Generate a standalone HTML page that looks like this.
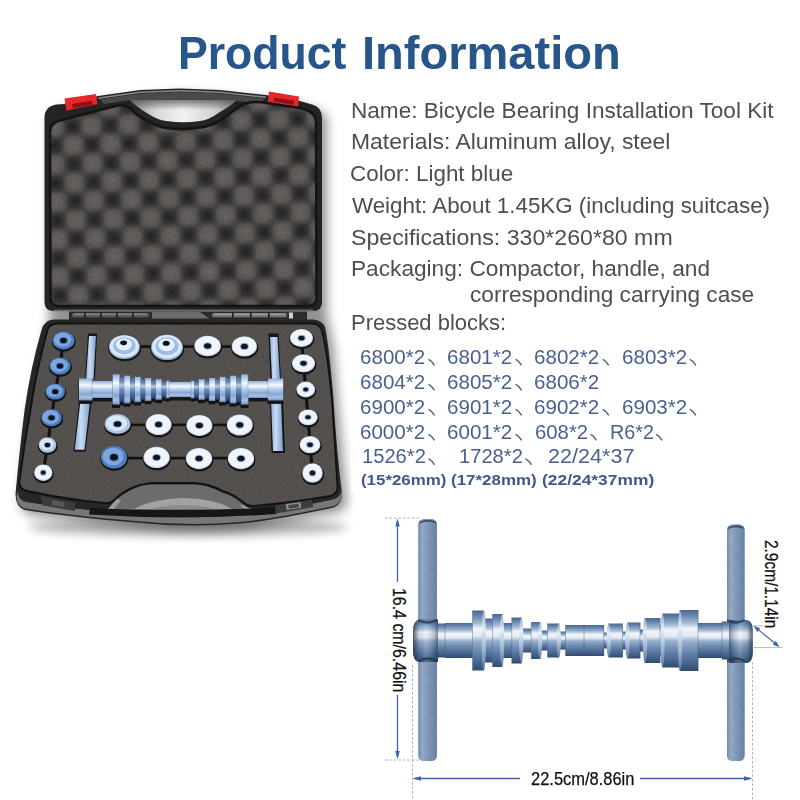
<!DOCTYPE html>
<html><head><meta charset="utf-8"><title>Product Information</title>
<style>
html,body{margin:0;padding:0;background:#fff;}
body{width:800px;height:800px;position:relative;overflow:hidden;font-family:"Liberation Sans",sans-serif;}
.t{position:absolute;white-space:nowrap;transform-origin:0 0;line-height:1;}
.ti{font-weight:bold;color:#27568a;}
.g{color:#4e4e4e;}
.b{color:#4a6090;}
.bb{color:#42578a;font-weight:bold;}
.k{color:#111;-webkit-text-stroke:0.25px #111;}
svg{position:absolute;left:0;top:0;}
</style></head><body>
<svg id="art" width="800" height="800" viewBox="0 0 800 800">

<defs>
<radialGradient id="bl" cx="50%" cy="50%" r="50%"><stop offset="0" stop-color="#6d6967" stop-opacity="1"/><stop offset="0.5" stop-color="#6d6967" stop-opacity="0.75"/><stop offset="1" stop-color="#6d6967" stop-opacity="0"/></radialGradient>
<radialGradient id="bd" cx="50%" cy="50%" r="50%"><stop offset="0" stop-color="#222020" stop-opacity="0.9"/><stop offset="1" stop-color="#222020" stop-opacity="0"/></radialGradient>
<pattern id="foam" width="37.5" height="37.5" patternUnits="userSpaceOnUse" patternTransform="translate(130 162) rotate(-2)">
<rect width="37.5" height="37.5" fill="#474544"/>
<circle cx="0" cy="0" r="14" fill="url(#bl)"/><circle cx="37.5" cy="0" r="14" fill="url(#bl)"/><circle cx="0" cy="37.5" r="14" fill="url(#bl)"/><circle cx="37.5" cy="37.5" r="14" fill="url(#bl)"/><circle cx="18.75" cy="18.75" r="14" fill="url(#bl)"/>
<circle cx="18.75" cy="0" r="11" fill="url(#bd)"/><circle cx="18.75" cy="37.5" r="11" fill="url(#bd)"/><circle cx="0" cy="18.75" r="11" fill="url(#bd)"/><circle cx="37.5" cy="18.75" r="11" fill="url(#bd)"/>
</pattern>
<linearGradient id="metal" x1="0" y1="0" x2="0" y2="1">
<stop offset="0" stop-color="#6d86a8"/><stop offset="0.12" stop-color="#9db3cf"/><stop offset="0.3" stop-color="#e4ecf5"/><stop offset="0.42" stop-color="#b9cadf"/><stop offset="0.6" stop-color="#7f98b9"/><stop offset="0.8" stop-color="#5d779c"/><stop offset="0.92" stop-color="#89a0bf"/><stop offset="1" stop-color="#566f93"/>
</linearGradient>
<linearGradient id="metalD" x1="0" y1="0" x2="0" y2="1">
<stop offset="0" stop-color="#4a668e"/><stop offset="0.1" stop-color="#6a8ab3"/><stop offset="0.22" stop-color="#a9bed8"/><stop offset="0.3" stop-color="#f0f5fa"/><stop offset="0.42" stop-color="#e2eaf4"/><stop offset="0.52" stop-color="#93accb"/><stop offset="0.72" stop-color="#6080a8"/><stop offset="0.9" stop-color="#425f87"/><stop offset="1" stop-color="#2f4a70"/>
</linearGradient>
<linearGradient id="metalS" x1="0" y1="0" x2="0" y2="1">
<stop offset="0" stop-color="#8fadd6"/><stop offset="0.14" stop-color="#c2d6ef"/><stop offset="0.3" stop-color="#f6f9fd"/><stop offset="0.45" stop-color="#c3d6ee"/><stop offset="0.7" stop-color="#86a6d2"/><stop offset="0.88" stop-color="#a9c2e4"/><stop offset="1" stop-color="#6d8dbc"/>
</linearGradient>
<linearGradient id="metalSd" x1="0" y1="0" x2="0" y2="1">
<stop offset="0" stop-color="#4c6a98"/><stop offset="0.2" stop-color="#6f90c0"/><stop offset="0.33" stop-color="#b9cfec"/><stop offset="0.5" stop-color="#6b8cbd"/><stop offset="0.8" stop-color="#3f5c8a"/><stop offset="1" stop-color="#2c456e"/>
</linearGradient>
<linearGradient id="face" x1="0" y1="0" x2="0" y2="1"><stop offset="0" stop-color="#8ea7c6"/><stop offset="0.3" stop-color="#e9eff6"/><stop offset="0.55" stop-color="#b4c6dc"/><stop offset="1" stop-color="#5c7aa2"/></linearGradient>
<linearGradient id="hubL" x1="0" y1="0" x2="1" y2="0"><stop offset="0" stop-color="#1d2c44" stop-opacity="0.75"/><stop offset="0.25" stop-color="#1d2c44" stop-opacity="0.1"/><stop offset="0.5" stop-color="#fff" stop-opacity="0.15"/><stop offset="0.85" stop-color="#1d2c44" stop-opacity="0.25"/><stop offset="1" stop-color="#1d2c44" stop-opacity="0.55"/></linearGradient>
<linearGradient id="hubR" x1="1" y1="0" x2="0" y2="0"><stop offset="0" stop-color="#1d2c44" stop-opacity="0.75"/><stop offset="0.25" stop-color="#1d2c44" stop-opacity="0.1"/><stop offset="0.5" stop-color="#fff" stop-opacity="0.15"/><stop offset="0.85" stop-color="#1d2c44" stop-opacity="0.25"/><stop offset="1" stop-color="#1d2c44" stop-opacity="0.55"/></linearGradient>
<pattern id="knurl" width="2.4" height="2.4" patternUnits="userSpaceOnUse" patternTransform="rotate(30)"><rect width="2.4" height="2.4" fill="#9fb5d0"/><rect width="1.2" height="1.2" fill="#5d7799"/><rect x="1.2" y="1.2" width="1.2" height="1.2" fill="#5d7799"/></pattern>
<linearGradient id="hand" x1="0" y1="0" x2="1" y2="0">
<stop offset="0" stop-color="#68829f"/><stop offset="0.22" stop-color="#a6bad3"/><stop offset="0.5" stop-color="#839cbd"/><stop offset="0.85" stop-color="#627da1"/><stop offset="1" stop-color="#4f698d"/>
</linearGradient>
<linearGradient id="bar" x1="0" y1="0" x2="1" y2="0">
<stop offset="0" stop-color="#8fb0dc"/><stop offset="0.4" stop-color="#c9dcf3"/><stop offset="1" stop-color="#7c9ccb"/>
</linearGradient>
<radialGradient id="shadow" cx="50%" cy="50%" r="50%"><stop offset="0" stop-color="#000" stop-opacity="0.35"/><stop offset="0.6" stop-color="#000" stop-opacity="0.15"/><stop offset="1" stop-color="#000" stop-opacity="0"/></radialGradient>
<linearGradient id="hole" x1="0" y1="0" x2="1" y2="0"><stop offset="0" stop-color="#8d8d8d"/><stop offset="0.25" stop-color="#d8d8d8"/><stop offset="0.5" stop-color="#f2f2f2"/><stop offset="0.8" stop-color="#cfcfcf"/><stop offset="1" stop-color="#8d8d8d"/></linearGradient>
<linearGradient id="holeV" x1="0" y1="0" x2="0" y2="1"><stop offset="0" stop-color="#4a4a4a" stop-opacity="0.7"/><stop offset="0.45" stop-color="#4a4a4a" stop-opacity="0"/></linearGradient>
<filter id="noise" x="0" y="0" width="100%" height="100%"><feTurbulence type="fractalNoise" baseFrequency="0.9" numOctaves="2" seed="3" result="n"/><feColorMatrix type="matrix" values="0 0 0 0 0  0 0 0 0 0  0 0 0 0 0  1.4 0 0 0 -0.45"/><feComposite in2="SourceGraphic" operator="in"/></filter>
<filter id="blur6" x="-20%" y="-20%" width="140%" height="140%"><feGaussianBlur stdDeviation="5.5"/></filter>
<filter id="blur4" x="-20%" y="-50%" width="140%" height="200%"><feGaussianBlur stdDeviation="5"/></filter>
<filter id="blur2"><feGaussianBlur stdDeviation="2"/></filter>
<filter id="blur1"><feGaussianBlur stdDeviation="0.6"/></filter>
</defs>

<path d="M44.5,118 Q44.5,106 57,104.5 L98,96 L180,88.4 L266,95 L312,104.5 Q322,107 322,118 L322,311 Q325,322 329,345 L333.5,400 L342,494 Q342.5,503 334,507.5 L240,523.5 Q185,528 130,522 L25,510 Q15.5,507 15.5,494 L24.6,410 L41.5,330 L44.5,311 Z" fill="#000" opacity="0.42" filter="url(#blur6)" transform="translate(5 5)"/>
<ellipse cx="188" cy="527" rx="160" ry="9" fill="#000" opacity="0.3" filter="url(#blur4)"/>
<rect x="351" y="84" width="449" height="409" fill="#fff"/>
<path d="M44.5,118 Q44.5,106 57,104.5 L64,104 L98,96 L140,90 L180,88.4 L220,90 L266,95 L300,101 L312,104.5 Q322,107 322,118 L322,302 Q322,311 313,311 L54,311 Q44.5,311 44.5,302 Z" fill="#242424"/>
<path d="M98,97.5 L140,91.5 L180,90 L220,91.5 L266,96.5 L266,98 L220,93 L180,91.5 L140,93 L98,99 Z" fill="#8a8a8a"/>
<path d="M100,99.5 L140,93.5 L180,92 L220,93.5 L264,98.5 L262,103 L236,101 L130,100 L104,104 Z" fill="#4a4a4a"/>
<path d="M130,100 L236,100.5 Q232,105 220,112 Q208,120.5 200,121 Q184,123.5 166,121 Q158,120 150,115 Q138,108 130,100 Z" fill="url(#hole)"/>
<path d="M130,100 L236,100.5 Q232,105 220,112 Q208,120.5 200,121 Q184,123.5 166,121 Q158,120 150,115 Q138,108 130,100 Z" fill="url(#holeV)"/>
<path d="M64.5,98.5 L96,94 L97.5,104 L66.5,110.5 Z" fill="#e8272c"/>
<path d="M72,104 L92,100.5 L92.5,104.5 L73,108.5 Z" fill="#8f1216"/>
<path d="M269,91.5 L299,96.5 L298,107 L268,102 Z" fill="#e8272c"/>
<path d="M274,97.5 L294,100.8 L293.6,105 L273.6,101.5 Z" fill="#8f1216"/>
<path id="lidfoam" d="M50,132 Q50,123 60,120.5 L100,110 L118,105.5 Q127,104.5 132,110 Q140,118 150,122 Q158,127 166,128 Q184,130.5 204,127 Q214,125 224,118 Q232,112 240,106 Q248,101.5 260,102 L300,108 Q315,110.5 316,122 L316.5,298 Q316.5,306 308,306 L59,306 Q50.5,306 50.5,298 Z" fill="url(#foam)"/>
<path d="M50,132 Q50,123 60,120.5 L100,110 L118,105.5 Q127,104.5 132,110 Q140,118 150,122 Q158,127 166,128 Q184,130.5 204,127 Q214,125 224,118 Q232,112 240,106 Q248,101.5 260,102 L300,108 Q315,110.5 316,122 L316.5,298 Q316.5,306 308,306 L59,306 Q50.5,306 50.5,298 Z" fill="#000" filter="url(#noise)" opacity="0.28"/>
<path d="M50,132 Q50,123 60,120.5 L100,110 L118,105.5 Q127,104.5 132,110 Q140,118 150,122 Q158,127 166,128 Q184,130.5 204,127 Q214,125 224,118 Q232,112 240,106 Q248,101.5 260,102 L300,108 Q315,110.5 316,122 L316.5,298 Q316.5,306 308,306 L59,306 Q50.5,306 50.5,298 Z" fill="none" stroke="#141414" stroke-width="2.5"/>
<rect x="54" y="309.6" width="259" height="1.6" fill="#6a6a6a"/>
<rect x="69" y="311.5" width="238" height="8.5" fill="#2c2c2c"/>
<rect x="72" y="313" width="77" height="4.2" rx="2" fill="#5c5c5c"/>
<rect x="74" y="313.6" width="73" height="1.2" fill="#8a8a8a"/>
<path d="M152,312 L200,312 L209,318.5 L152,318.5 Z" fill="#6e6e6e"/>
<rect x="212" y="313" width="75" height="4.2" rx="2" fill="#767676"/>
<rect x="214" y="313.6" width="71" height="1.2" fill="#a5a5a5"/>
<rect x="289" y="312.5" width="4" height="6" fill="#cfcfcf"/>
<rect x="84" y="312.3" width="1.6" height="5.8" fill="#1e1e1e"/>
<rect x="100" y="312.3" width="1.6" height="5.8" fill="#1e1e1e"/>
<rect x="116" y="312.3" width="1.6" height="5.8" fill="#1e1e1e"/>
<rect x="132" y="312.3" width="1.6" height="5.8" fill="#1e1e1e"/>
<rect x="232" y="312.3" width="1.6" height="5.8" fill="#1e1e1e"/>
<rect x="250" y="312.3" width="1.6" height="5.8" fill="#1e1e1e"/>
<rect x="268" y="312.3" width="1.6" height="5.8" fill="#1e1e1e"/>
<path d="M41.5,330 Q44,320 54,319.5 L313,319.5 Q322,320 325,327 Q329,345 333.5,400 Q336.5,450 342,494 Q342.5,503 334,507.5 Q270,521 240,523.5 Q185,528 130,522 Q70,517 25,510 Q15.5,507 15.5,494 Q19.5,450 24.6,410 Q30.5,368 41.5,330 Z" fill="#262626"/>
<path d="M16.5,497 Q17,506 25,508.5 Q70,515.5 130,520.5 Q185,526.5 240,522 Q270,519.5 334,506 Q341,503 342,496 L341.5,490 Q341,497 333,499.5 Q270,513 240,515.5 Q185,519.5 130,514 Q70,509 26,502 Q18,500 17.5,491 Z" fill="#777"/>
<path id="trayfoam" d="M47,332 Q48,324 57,323.5 L312,323.5 Q320,324 322,331 Q327,350 332,400 Q335,450 337.5,487 Q337.5,494 330,496 Q290,503 252,506 Q247,506 244,503 Q234,494 223,491 Q208,483.5 194.5,483 L152,483 Q138,484 125.6,491 Q117,497 113,501 Q110,503.5 104,503 Q70,500 27,491 Q18.5,489 19.5,481 Q24,445 30.5,410 Q36,372 47,332 Z" fill="#585451"/>
<path d="M47,332 Q48,324 57,323.5 L312,323.5 Q320,324 322,331 Q327,350 332,400 Q335,450 337.5,487 Q337.5,494 330,496 Q290,503 252,506 Q247,506 244,503 Q234,494 223,491 Q208,483.5 194.5,483 L152,483 Q138,484 125.6,491 Q117,497 113,501 Q110,503.5 104,503 Q70,500 27,491 Q18.5,489 19.5,481 Q24,445 30.5,410 Q36,372 47,332 Z" fill="#000" filter="url(#noise)" opacity="0.2"/>
<path d="M47,332 Q48,324 57,323.5 L312,323.5 Q320,324 322,331 Q327,350 332,400 Q335,450 337.5,487 Q337.5,494 330,496 Q290,503 252,506 Q247,506 244,503 Q234,494 223,491 Q208,483.5 194.5,483 L152,483 Q138,484 125.6,491 Q117,497 113,501 Q110,503.5 104,503 Q70,500 27,491 Q18.5,489 19.5,481 Q24,445 30.5,410 Q36,372 47,332 Z" fill="none" stroke="#121212" stroke-width="1.8"/>
<path d="M108,509 Q112,504 117,499 Q126,491.5 139,486.5 Q146,484.5 152,484.5 L194.5,484.5 Q208,485 222,492.5 Q234,496 243,504.5 Q247,508 252,509 L250,510 L110,510 Z" fill="#6c6c6c"/>
<path d="M134,509 Q150,499.5 183,498 Q216,499 232,509 Z" fill="#a2a2a2"/>
<path d="M150,509 Q183,501 216,509 Z" fill="#8c8c8c"/>
<path d="M108,509 Q112,504 117,499 L121,500.5 Q117,505 114,509 Z" fill="#9a9a9a"/>
<path d="M252,509 Q247,508 243,504.5 L240,506 Q243,508 246,509.5 Z" fill="#9a9a9a"/>
<path d="M90,508 Q185,513 275,507 L276,514 Q185,520.5 89,514.5 Z" fill="#161616"/>
<path d="M41,496 L75,502.5 L75,511 L43,505.5 Z" fill="#3c3c3c"/>
<path d="M52,500 L64,502.3 L64,507 L52,505 Z" fill="#5a5a5a"/>
<path d="M275,505.5 L312,499.5 L313,507 L276,513.5 Z" fill="#3c3c3c"/>
<rect x="286" y="503" width="15" height="6" fill="#8a8a8a" transform="rotate(-8 293 506)"/>
<rect x="288.5" y="504.5" width="10" height="3.5" fill="#444" transform="rotate(-8 293 506)"/>
<rect x="124" y="345.3" width="121" height="2.6" fill="#111"/>
<rect x="117" y="423.6" width="123" height="2.6" fill="#111"/>
<rect x="114" y="456.8" width="127" height="2.6" fill="#111"/>
<path d="M63.5,340.5 L60,366 L55.25,391.7 L51.5,417.8 L47.5,445 L43.25,472.7" stroke="#111" stroke-width="3" fill="none"/>
<path d="M301.5,338 L303.5,363.3 L305.75,389.5 L308,417.3 L310,444.7 L312.5,473" stroke="#111" stroke-width="3" fill="none"/>
<ellipse cx="63.8" cy="341.8" rx="12" ry="10" fill="#161616"/>
<ellipse cx="63.5" cy="340.5" rx="11" ry="9" fill="#4f7fc4"/>
<ellipse cx="62.7" cy="339.7" rx="8.8" ry="7.0200000000000005" fill="#7fa6dc"/>
<ellipse cx="63.5" cy="340.5" rx="4.37" ry="3.54" fill="#4f7fc4"/>
<ellipse cx="63.5" cy="340.5" rx="3.37" ry="2.6399999999999997" fill="#0c1220"/>
<ellipse cx="60.3" cy="367.3" rx="11.5" ry="9.6" fill="#161616"/>
<ellipse cx="60" cy="366" rx="10.5" ry="8.6" fill="#4f7fc4"/>
<ellipse cx="59.2" cy="365.2" rx="8.4" ry="6.708" fill="#7fa6dc"/>
<ellipse cx="60" cy="366" rx="4.234999999999999" ry="3.436" fill="#4f7fc4"/>
<ellipse cx="60" cy="366" rx="3.235" ry="2.5359999999999996" fill="#0c1220"/>
<ellipse cx="55.55" cy="393.0" rx="10.75" ry="8.9" fill="#161616"/>
<ellipse cx="55.25" cy="391.7" rx="9.75" ry="7.9" fill="#4f7fc4"/>
<ellipse cx="54.45" cy="390.9" rx="7.800000000000001" ry="6.162000000000001" fill="#7fa6dc"/>
<ellipse cx="55.25" cy="391.7" rx="4.032500000000001" ry="3.2540000000000004" fill="#4f7fc4"/>
<ellipse cx="55.25" cy="391.7" rx="3.0325" ry="2.354" fill="#0c1220"/>
<ellipse cx="51.8" cy="419.1" rx="11.3" ry="9.5" fill="#161616"/>
<ellipse cx="51.5" cy="417.8" rx="10.3" ry="8.5" fill="#4f7fc4"/>
<ellipse cx="50.7" cy="417.0" rx="8.24" ry="6.63" fill="#7fa6dc"/>
<ellipse cx="51.5" cy="417.8" rx="4.181000000000001" ry="3.41" fill="#4f7fc4"/>
<ellipse cx="51.5" cy="417.8" rx="3.1810000000000005" ry="2.51" fill="#0c1220"/>
<ellipse cx="47.8" cy="446.3" rx="9.85" ry="8.65" fill="#161616"/>
<ellipse cx="47.5" cy="445" rx="8.85" ry="7.65" fill="#a9c3e6"/>
<ellipse cx="46.7" cy="444.2" rx="7.08" ry="5.9670000000000005" fill="#dbe7f6"/>
<ellipse cx="47.5" cy="445" rx="3.7895" ry="3.189" fill="#a9c3e6"/>
<ellipse cx="47.5" cy="445" rx="2.7895" ry="2.289" fill="#0c1220"/>
<ellipse cx="43.55" cy="474.0" rx="10.2" ry="9.25" fill="#161616"/>
<ellipse cx="43.25" cy="472.7" rx="9.2" ry="8.25" fill="#c9d8ec"/>
<ellipse cx="43.25" cy="472.4" rx="8.299999999999999" ry="7.35" fill="#f1f5fb"/>
<ellipse cx="43.25" cy="472.7" rx="3.484" ry="3.145" fill="#9fb6d6"/>
<ellipse cx="43.25" cy="472.7" rx="2.484" ry="2.145" fill="#0f1626"/>
<ellipse cx="301.8" cy="339.3" rx="12.5" ry="10" fill="#161616"/>
<ellipse cx="301.5" cy="338" rx="11.5" ry="9" fill="#c9d8ec"/>
<ellipse cx="301.5" cy="337.7" rx="10.6" ry="8.1" fill="#f1f5fb"/>
<ellipse cx="301.5" cy="338" rx="4.105" ry="3.34" fill="#9fb6d6"/>
<ellipse cx="301.5" cy="338" rx="3.1050000000000004" ry="2.34" fill="#0f1626"/>
<ellipse cx="303.8" cy="364.6" rx="12.6" ry="10" fill="#161616"/>
<ellipse cx="303.5" cy="363.3" rx="11.6" ry="9" fill="#c9d8ec"/>
<ellipse cx="303.5" cy="363.0" rx="10.7" ry="8.1" fill="#f1f5fb"/>
<ellipse cx="303.5" cy="363.3" rx="4.132" ry="3.34" fill="#9fb6d6"/>
<ellipse cx="303.5" cy="363.3" rx="3.132" ry="2.34" fill="#0f1626"/>
<ellipse cx="306.05" cy="390.8" rx="10.4" ry="8.9" fill="#161616"/>
<ellipse cx="305.75" cy="389.5" rx="9.4" ry="7.9" fill="#c9d8ec"/>
<ellipse cx="305.75" cy="389.2" rx="8.5" ry="7.0" fill="#f1f5fb"/>
<ellipse cx="305.75" cy="389.5" rx="3.5380000000000003" ry="3.0540000000000003" fill="#9fb6d6"/>
<ellipse cx="305.75" cy="389.5" rx="2.5380000000000003" ry="2.0540000000000003" fill="#0f1626"/>
<ellipse cx="308.3" cy="418.6" rx="10.75" ry="8.9" fill="#161616"/>
<ellipse cx="308" cy="417.3" rx="9.75" ry="7.9" fill="#c9d8ec"/>
<ellipse cx="308" cy="417.0" rx="8.85" ry="7.0" fill="#f1f5fb"/>
<ellipse cx="308" cy="417.3" rx="3.6325000000000003" ry="3.0540000000000003" fill="#9fb6d6"/>
<ellipse cx="308" cy="417.3" rx="2.6325000000000003" ry="2.0540000000000003" fill="#0f1626"/>
<ellipse cx="310.3" cy="446.0" rx="11.5" ry="9.6" fill="#161616"/>
<ellipse cx="310" cy="444.7" rx="10.5" ry="8.6" fill="#c9d8ec"/>
<ellipse cx="310" cy="444.4" rx="9.6" ry="7.699999999999999" fill="#f1f5fb"/>
<ellipse cx="310" cy="444.7" rx="3.835" ry="3.2359999999999998" fill="#9fb6d6"/>
<ellipse cx="310" cy="444.7" rx="2.835" ry="2.2359999999999998" fill="#0f1626"/>
<ellipse cx="312.8" cy="474.3" rx="11.3" ry="10.75" fill="#161616"/>
<ellipse cx="312.5" cy="473" rx="10.3" ry="9.75" fill="#c9d8ec"/>
<ellipse cx="312.5" cy="472.7" rx="9.4" ry="8.85" fill="#f1f5fb"/>
<ellipse cx="312.5" cy="473" rx="3.7810000000000006" ry="3.535" fill="#9fb6d6"/>
<ellipse cx="312.5" cy="473" rx="2.7810000000000006" ry="2.535" fill="#0f1626"/>
<ellipse cx="124.7" cy="348.3" rx="16.5" ry="13" fill="#161616"/>
<ellipse cx="124.4" cy="347" rx="15.5" ry="12" fill="#8fb0dd"/>
<ellipse cx="124.4" cy="346.4" rx="14.5" ry="11" fill="#dbe7f7"/>
<ellipse cx="124.4" cy="345.8" rx="11.16" ry="8.399999999999999" fill="#9dbce6"/>
<ellipse cx="123.9" cy="344.4" rx="8.06" ry="6.0" fill="#e6effa"/>
<ellipse cx="123.60000000000001" cy="342.8" rx="3.41" ry="2.4000000000000004" fill="#0c1220"/>
<ellipse cx="167.3" cy="348.7" rx="17" ry="13.7" fill="#161616"/>
<ellipse cx="167" cy="347.4" rx="16" ry="12.7" fill="#8fb0dd"/>
<ellipse cx="167" cy="346.79999999999995" rx="15" ry="11.7" fill="#dbe7f7"/>
<ellipse cx="167" cy="346.2" rx="11.52" ry="8.889999999999999" fill="#9dbce6"/>
<ellipse cx="166.5" cy="344.79999999999995" rx="8.32" ry="6.35" fill="#e6effa"/>
<ellipse cx="166.2" cy="343.2" rx="3.52" ry="2.54" fill="#0c1220"/>
<ellipse cx="207.9" cy="347.3" rx="14.3" ry="11.3" fill="#161616"/>
<ellipse cx="207.6" cy="346" rx="13.3" ry="10.3" fill="#c9d8ec"/>
<ellipse cx="207.6" cy="345.7" rx="12.4" ry="9.4" fill="#f1f5fb"/>
<ellipse cx="207.6" cy="346" rx="4.591000000000001" ry="3.6780000000000004" fill="#9fb6d6"/>
<ellipse cx="207.6" cy="346" rx="3.5910000000000006" ry="2.6780000000000004" fill="#0f1626"/>
<ellipse cx="244.70000000000002" cy="347.7" rx="13.7" ry="11.1" fill="#161616"/>
<ellipse cx="244.4" cy="346.4" rx="12.7" ry="10.1" fill="#c9d8ec"/>
<ellipse cx="244.4" cy="346.09999999999997" rx="11.799999999999999" ry="9.2" fill="#f1f5fb"/>
<ellipse cx="244.4" cy="346.4" rx="4.429" ry="3.626" fill="#9fb6d6"/>
<ellipse cx="244.4" cy="346.4" rx="3.429" ry="2.626" fill="#0f1626"/>
<ellipse cx="117.8" cy="425.3" rx="14" ry="10.9" fill="#161616"/>
<ellipse cx="117.5" cy="424" rx="13" ry="9.9" fill="#a9c3e6"/>
<ellipse cx="116.7" cy="423.2" rx="10.4" ry="7.722" fill="#dbe7f6"/>
<ellipse cx="117.5" cy="424" rx="4.91" ry="3.774" fill="#a9c3e6"/>
<ellipse cx="117.5" cy="424" rx="3.91" ry="2.874" fill="#0c1220"/>
<ellipse cx="158.9" cy="425.90000000000003" rx="14" ry="11.5" fill="#161616"/>
<ellipse cx="158.6" cy="424.6" rx="13" ry="10.5" fill="#c9d8ec"/>
<ellipse cx="158.6" cy="424.3" rx="12.1" ry="9.6" fill="#f1f5fb"/>
<ellipse cx="158.6" cy="424.6" rx="4.51" ry="3.73" fill="#9fb6d6"/>
<ellipse cx="158.6" cy="424.6" rx="3.5100000000000002" ry="2.73" fill="#0f1626"/>
<ellipse cx="199.70000000000002" cy="426.7" rx="14" ry="11.5" fill="#161616"/>
<ellipse cx="199.4" cy="425.4" rx="13" ry="10.5" fill="#c9d8ec"/>
<ellipse cx="199.4" cy="425.09999999999997" rx="12.1" ry="9.6" fill="#f1f5fb"/>
<ellipse cx="199.4" cy="425.4" rx="4.51" ry="3.73" fill="#9fb6d6"/>
<ellipse cx="199.4" cy="425.4" rx="3.5100000000000002" ry="2.73" fill="#0f1626"/>
<ellipse cx="240.10000000000002" cy="426.3" rx="14" ry="11.5" fill="#161616"/>
<ellipse cx="239.8" cy="425" rx="13" ry="10.5" fill="#c9d8ec"/>
<ellipse cx="239.8" cy="424.7" rx="12.1" ry="9.6" fill="#f1f5fb"/>
<ellipse cx="239.8" cy="425" rx="4.51" ry="3.73" fill="#9fb6d6"/>
<ellipse cx="239.8" cy="425" rx="3.5100000000000002" ry="2.73" fill="#0f1626"/>
<ellipse cx="114.3" cy="458.55" rx="14.1" ry="12.25" fill="#161616"/>
<ellipse cx="114" cy="457.25" rx="13.1" ry="11.25" fill="#4f7fc4"/>
<ellipse cx="113.2" cy="456.45" rx="10.48" ry="8.775" fill="#7fa6dc"/>
<ellipse cx="114" cy="457.25" rx="4.936999999999999" ry="4.125" fill="#4f7fc4"/>
<ellipse cx="114" cy="457.25" rx="3.937" ry="3.225" fill="#0c1220"/>
<ellipse cx="156.9" cy="458.7" rx="14.2" ry="11.6" fill="#161616"/>
<ellipse cx="156.6" cy="457.4" rx="13.2" ry="10.6" fill="#c9d8ec"/>
<ellipse cx="156.6" cy="457.09999999999997" rx="12.299999999999999" ry="9.7" fill="#f1f5fb"/>
<ellipse cx="156.6" cy="457.4" rx="4.564" ry="3.756" fill="#9fb6d6"/>
<ellipse cx="156.6" cy="457.4" rx="3.564" ry="2.756" fill="#0f1626"/>
<ellipse cx="199.3" cy="459.90000000000003" rx="14.2" ry="11.6" fill="#161616"/>
<ellipse cx="199" cy="458.6" rx="13.2" ry="10.6" fill="#c9d8ec"/>
<ellipse cx="199" cy="458.3" rx="12.299999999999999" ry="9.7" fill="#f1f5fb"/>
<ellipse cx="199" cy="458.6" rx="4.564" ry="3.756" fill="#9fb6d6"/>
<ellipse cx="199" cy="458.6" rx="3.564" ry="2.756" fill="#0f1626"/>
<ellipse cx="241.3" cy="459.90000000000003" rx="14.2" ry="11.6" fill="#161616"/>
<ellipse cx="241" cy="458.6" rx="13.2" ry="10.6" fill="#c9d8ec"/>
<ellipse cx="241" cy="458.3" rx="12.299999999999999" ry="9.7" fill="#f1f5fb"/>
<ellipse cx="241" cy="458.6" rx="4.564" ry="3.756" fill="#9fb6d6"/>
<ellipse cx="241" cy="458.6" rx="3.564" ry="2.756" fill="#0f1626"/>
<path d="M88,333.5 L97,333.5 L95,379 L85,379 Z" fill="#151515"/>
<path d="M268.5,333.5 L278.5,333.5 L281,380 L270.5,380 Z" fill="#151515"/>
<path d="M89,336 L96,336 L93.5,379 L86,379 Z" fill="url(#bar)"/>
<path d="M79.5,398 L92,398 L85.5,451.5 L73.5,451.5 Z" fill="#151515"/>
<path d="M80.75,398 L90.5,398 L84.5,449.75 L74.75,449.75 Z" fill="url(#bar)"/>
<path d="M270,337 L277.5,337 L280,380 L272,380 Z" fill="url(#bar)"/>
<path d="M270,400 L283,400 L285,453 L271.5,453 Z" fill="#151515"/>
<path d="M271,400 L281,400 L283,451 L273,451 Z" fill="url(#bar)"/>
<rect x="78.5" y="379.5" width="14.00" height="24.4" fill="#141414"/>
<rect x="91.5" y="382.0" width="21.60" height="19.4" fill="#141414"/>
<rect x="112.1" y="375.4" width="7.90" height="32.6" fill="#141414"/>
<rect x="119.0" y="377.9" width="5.50" height="27.599999999999998" fill="#141414"/>
<rect x="123.5" y="376.7" width="7.00" height="30.0" fill="#141414"/>
<rect x="129.5" y="379.1" width="5.50" height="25.2" fill="#141414"/>
<rect x="134.0" y="377.9" width="7.00" height="27.599999999999998" fill="#141414"/>
<rect x="140.0" y="380.3" width="5.50" height="22.799999999999997" fill="#141414"/>
<rect x="144.5" y="379.1" width="7.00" height="25.2" fill="#141414"/>
<rect x="150.5" y="381.5" width="5.50" height="20.4" fill="#141414"/>
<rect x="155.0" y="380.3" width="7.00" height="22.799999999999997" fill="#141414"/>
<rect x="161.0" y="382.5" width="5.50" height="18.4" fill="#141414"/>
<rect x="165.5" y="381.7" width="4.00" height="20.0" fill="#141414"/>
<rect x="168.5" y="382.9" width="23.00" height="17.599999999999998" fill="#141414"/>
<rect x="190.5" y="381.7" width="4.00" height="20.0" fill="#141414"/>
<rect x="193.5" y="382.5" width="5.50" height="18.4" fill="#141414"/>
<rect x="198.0" y="380.3" width="7.00" height="22.799999999999997" fill="#141414"/>
<rect x="204.0" y="381.5" width="5.50" height="20.4" fill="#141414"/>
<rect x="208.5" y="379.1" width="7.00" height="25.2" fill="#141414"/>
<rect x="214.5" y="380.3" width="5.50" height="22.799999999999997" fill="#141414"/>
<rect x="219.0" y="377.9" width="7.00" height="27.599999999999998" fill="#141414"/>
<rect x="225.0" y="379.1" width="5.50" height="25.2" fill="#141414"/>
<rect x="229.5" y="376.7" width="7.00" height="30.0" fill="#141414"/>
<rect x="235.5" y="377.9" width="6.00" height="27.599999999999998" fill="#141414"/>
<rect x="240.5" y="375.4" width="8.00" height="32.6" fill="#141414"/>
<rect x="247.5" y="382.0" width="21.00" height="19.4" fill="#141414"/>
<rect x="267.5" y="379.5" width="16.00" height="24.4" fill="#141414"/>
<rect x="79" y="378.5" width="13.30" height="22" fill="url(#metalS)"/>
<rect x="92" y="381.0" width="20.90" height="17.0" fill="url(#metalS)"/>
<rect x="112.6" y="374.4" width="7.20" height="30.2" fill="url(#metalS)"/>
<rect x="124" y="375.7" width="6.30" height="27.6" fill="url(#metalS)"/>
<rect x="134.5" y="376.9" width="6.30" height="25.2" fill="url(#metalS)"/>
<rect x="145" y="378.1" width="6.30" height="22.8" fill="url(#metalS)"/>
<rect x="155.5" y="379.3" width="6.30" height="20.4" fill="url(#metalS)"/>
<rect x="166" y="380.7" width="3.30" height="17.6" fill="url(#metalS)"/>
<rect x="169" y="381.9" width="22.30" height="15.2" fill="url(#metalS)"/>
<rect x="191" y="380.7" width="3.30" height="17.6" fill="url(#metalS)"/>
<rect x="198.5" y="379.3" width="6.30" height="20.4" fill="url(#metalS)"/>
<rect x="209" y="378.1" width="6.30" height="22.8" fill="url(#metalS)"/>
<rect x="219.5" y="376.9" width="6.30" height="25.2" fill="url(#metalS)"/>
<rect x="230" y="375.7" width="6.30" height="27.6" fill="url(#metalS)"/>
<rect x="241" y="374.4" width="7.30" height="30.2" fill="url(#metalS)"/>
<rect x="248" y="381.0" width="20.30" height="17.0" fill="url(#metalS)"/>
<rect x="268" y="378.5" width="15.30" height="22" fill="url(#metalS)"/>
<line x1="92" y1="378.5" x2="92" y2="400.5" stroke="#5d7dab" stroke-width="0.7" opacity="0.5"/>
<line x1="112.6" y1="374.4" x2="112.6" y2="404.6" stroke="#5d7dab" stroke-width="0.7" opacity="0.5"/>
<line x1="124" y1="374.4" x2="124" y2="404.6" stroke="#5d7dab" stroke-width="0.7" opacity="0.5"/>
<line x1="134.5" y1="375.7" x2="134.5" y2="403.3" stroke="#5d7dab" stroke-width="0.7" opacity="0.5"/>
<line x1="145" y1="376.9" x2="145" y2="402.1" stroke="#5d7dab" stroke-width="0.7" opacity="0.5"/>
<line x1="155.5" y1="378.1" x2="155.5" y2="400.9" stroke="#5d7dab" stroke-width="0.7" opacity="0.5"/>
<line x1="166" y1="379.3" x2="166" y2="399.7" stroke="#5d7dab" stroke-width="0.7" opacity="0.5"/>
<line x1="169" y1="380.7" x2="169" y2="398.3" stroke="#5d7dab" stroke-width="0.7" opacity="0.5"/>
<line x1="191" y1="380.7" x2="191" y2="398.3" stroke="#5d7dab" stroke-width="0.7" opacity="0.5"/>
<line x1="198.5" y1="379.3" x2="198.5" y2="399.7" stroke="#5d7dab" stroke-width="0.7" opacity="0.5"/>
<line x1="209" y1="378.1" x2="209" y2="400.9" stroke="#5d7dab" stroke-width="0.7" opacity="0.5"/>
<line x1="219.5" y1="376.9" x2="219.5" y2="402.1" stroke="#5d7dab" stroke-width="0.7" opacity="0.5"/>
<line x1="230" y1="375.7" x2="230" y2="403.3" stroke="#5d7dab" stroke-width="0.7" opacity="0.5"/>
<line x1="241" y1="374.4" x2="241" y2="404.6" stroke="#5d7dab" stroke-width="0.7" opacity="0.5"/>
<line x1="248" y1="374.4" x2="248" y2="404.6" stroke="#5d7dab" stroke-width="0.7" opacity="0.5"/>
<line x1="268" y1="378.5" x2="268" y2="400.5" stroke="#5d7dab" stroke-width="0.7" opacity="0.5"/>
<rect x="119.5" y="376.9" width="4.80" height="25.2" fill="url(#metalSd)"/>
<rect x="130" y="378.1" width="4.80" height="22.8" fill="url(#metalSd)"/>
<rect x="140.5" y="379.3" width="4.80" height="20.4" fill="url(#metalSd)"/>
<rect x="151" y="380.5" width="4.80" height="18" fill="url(#metalSd)"/>
<rect x="161.5" y="381.5" width="4.80" height="16" fill="url(#metalSd)"/>
<rect x="194" y="381.5" width="4.80" height="16" fill="url(#metalSd)"/>
<rect x="204.5" y="380.5" width="4.80" height="18" fill="url(#metalSd)"/>
<rect x="215" y="379.3" width="4.80" height="20.4" fill="url(#metalSd)"/>
<rect x="225.5" y="378.1" width="4.80" height="22.8" fill="url(#metalSd)"/>
<rect x="236" y="376.9" width="5.30" height="25.2" fill="url(#metalSd)"/>
<rect x="418.3" y="519" width="18.6" height="242" rx="5.5" fill="url(#hand)"/>
<rect x="418.3" y="519" width="18.6" height="242" rx="5.5" fill="url(#knurl)" opacity="0.5"/>
<path d="M419.5,522 Q427.5,517.5 436,522 L436,523.5 Q427.5,520 419.5,523.5 Z" fill="#2c3d57" opacity="0.8"/>
<rect x="727" y="524.5" width="17.6" height="236.5" rx="5.5" fill="url(#hand)"/>
<rect x="727" y="524.5" width="17.6" height="236.5" rx="5.5" fill="url(#knurl)" opacity="0.5"/>
<path d="M728,527.5 Q735.8,523 743.6,527.5 L743.6,529 Q735.8,525.5 728,529 Z" fill="#2c3d57" opacity="0.8"/>
<rect x="437.5" y="623.5" width="7.80" height="34" fill="url(#metalD)"/>
<rect x="445" y="623.0" width="27.80" height="35.0" fill="url(#metalD)"/>
<rect x="472.5" y="610.5" width="11.55" height="60" fill="url(#metalD)"/>
<rect x="483.75" y="618.5" width="9.05" height="44" fill="url(#metalD)"/>
<rect x="492.5" y="614.0" width="9.80" height="53.0" fill="url(#metalD)"/>
<rect x="502" y="623.0" width="10.05" height="35.0" fill="url(#metalD)"/>
<rect x="511.75" y="617.5" width="9.80" height="46" fill="url(#metalD)"/>
<rect x="521.25" y="628.5" width="10.30" height="24" fill="url(#metalD)"/>
<rect x="531.25" y="622.0" width="9.05" height="37.0" fill="url(#metalD)"/>
<rect x="540" y="630.5" width="7.80" height="20" fill="url(#metalD)"/>
<rect x="547.5" y="623.5" width="11.55" height="34" fill="url(#metalD)"/>
<rect x="558.75" y="631.5" width="7.05" height="18" fill="url(#metalD)"/>
<rect x="565.5" y="625.0" width="18.80" height="31.0" fill="url(#metalD)"/>
<rect x="584" y="625.0" width="20.05" height="31.0" fill="url(#metalD)"/>
<rect x="603.75" y="632.5" width="5.30" height="16" fill="url(#metalD)"/>
<rect x="608.75" y="623.5" width="14.05" height="34" fill="url(#metalD)"/>
<rect x="622.5" y="631.5" width="5.30" height="18" fill="url(#metalD)"/>
<rect x="627.5" y="622.5" width="12.80" height="36" fill="url(#metalD)"/>
<rect x="640" y="629.5" width="5.30" height="22" fill="url(#metalD)"/>
<rect x="645" y="618.0" width="15.30" height="45.0" fill="url(#metalD)"/>
<rect x="660" y="625.5" width="2.80" height="30" fill="url(#metalD)"/>
<rect x="662.5" y="613.5" width="16.55" height="54" fill="url(#metalD)"/>
<rect x="678.75" y="622.5" width="1.55" height="36" fill="url(#metalD)"/>
<rect x="680" y="610.0" width="18.30" height="61.0" fill="url(#metalD)"/>
<rect x="698" y="623.0" width="24.30" height="35.0" fill="url(#metalD)"/>
<rect x="722" y="621.5" width="8.30" height="38" fill="url(#metalD)"/>
<line x1="445" y1="623.0" x2="445" y2="658.0" stroke="#3c5273" stroke-width="0.7" opacity="0.55"/>
<line x1="472.5" y1="610.5" x2="472.5" y2="670.5" stroke="#3c5273" stroke-width="0.7" opacity="0.55"/>
<line x1="483.75" y1="610.5" x2="483.75" y2="670.5" stroke="#3c5273" stroke-width="0.7" opacity="0.55"/>
<line x1="492.5" y1="614.0" x2="492.5" y2="667.0" stroke="#3c5273" stroke-width="0.7" opacity="0.55"/>
<line x1="502" y1="614.0" x2="502" y2="667.0" stroke="#3c5273" stroke-width="0.7" opacity="0.55"/>
<line x1="511.75" y1="617.5" x2="511.75" y2="663.5" stroke="#3c5273" stroke-width="0.7" opacity="0.55"/>
<line x1="521.25" y1="617.5" x2="521.25" y2="663.5" stroke="#3c5273" stroke-width="0.7" opacity="0.55"/>
<line x1="531.25" y1="622.0" x2="531.25" y2="659.0" stroke="#3c5273" stroke-width="0.7" opacity="0.55"/>
<line x1="540" y1="622.0" x2="540" y2="659.0" stroke="#3c5273" stroke-width="0.7" opacity="0.55"/>
<line x1="547.5" y1="623.5" x2="547.5" y2="657.5" stroke="#3c5273" stroke-width="0.7" opacity="0.55"/>
<line x1="558.75" y1="623.5" x2="558.75" y2="657.5" stroke="#3c5273" stroke-width="0.7" opacity="0.55"/>
<line x1="565.5" y1="625.0" x2="565.5" y2="656.0" stroke="#3c5273" stroke-width="0.7" opacity="0.55"/>
<line x1="584" y1="625.0" x2="584" y2="656.0" stroke="#3c5273" stroke-width="0.7" opacity="0.55"/>
<line x1="603.75" y1="625.0" x2="603.75" y2="656.0" stroke="#3c5273" stroke-width="0.7" opacity="0.55"/>
<line x1="608.75" y1="623.5" x2="608.75" y2="657.5" stroke="#3c5273" stroke-width="0.7" opacity="0.55"/>
<line x1="622.5" y1="623.5" x2="622.5" y2="657.5" stroke="#3c5273" stroke-width="0.7" opacity="0.55"/>
<line x1="627.5" y1="622.5" x2="627.5" y2="658.5" stroke="#3c5273" stroke-width="0.7" opacity="0.55"/>
<line x1="640" y1="622.5" x2="640" y2="658.5" stroke="#3c5273" stroke-width="0.7" opacity="0.55"/>
<line x1="645" y1="618.0" x2="645" y2="663.0" stroke="#3c5273" stroke-width="0.7" opacity="0.55"/>
<line x1="660" y1="618.0" x2="660" y2="663.0" stroke="#3c5273" stroke-width="0.7" opacity="0.55"/>
<line x1="662.5" y1="613.5" x2="662.5" y2="667.5" stroke="#3c5273" stroke-width="0.7" opacity="0.55"/>
<line x1="678.75" y1="613.5" x2="678.75" y2="667.5" stroke="#3c5273" stroke-width="0.7" opacity="0.55"/>
<line x1="680" y1="610.0" x2="680" y2="671.0" stroke="#3c5273" stroke-width="0.7" opacity="0.55"/>
<line x1="698" y1="610.0" x2="698" y2="671.0" stroke="#3c5273" stroke-width="0.7" opacity="0.55"/>
<line x1="722" y1="621.5" x2="722" y2="659.5" stroke="#3c5273" stroke-width="0.7" opacity="0.55"/>
<ellipse cx="483.75" cy="640.5" rx="2.2" ry="29.7" fill="url(#face)"/>
<ellipse cx="502" cy="640.5" rx="2.2" ry="26.2" fill="url(#face)"/>
<ellipse cx="521.25" cy="640.5" rx="2.2" ry="22.7" fill="url(#face)"/>
<ellipse cx="540" cy="640.5" rx="2.2" ry="18.2" fill="url(#face)"/>
<ellipse cx="558.75" cy="640.5" rx="2.2" ry="16.7" fill="url(#face)"/>
<ellipse cx="608.75" cy="640.5" rx="2.2" ry="16.7" fill="url(#face)"/>
<ellipse cx="627.5" cy="640.5" rx="2.2" ry="17.7" fill="url(#face)"/>
<ellipse cx="645" cy="640.5" rx="2.2" ry="22.2" fill="url(#face)"/>
<ellipse cx="662.5" cy="640.5" rx="2.2" ry="26.7" fill="url(#face)"/>
<ellipse cx="680" cy="640.5" rx="2.2" ry="30.2" fill="url(#face)"/>
<path d="M438,619.5 L419,619.5 Q413,621 413,631 L413,651 Q413,661 419,662 L438,662 Z" fill="url(#metalD)"/>
<path d="M438,619.5 L419,619.5 Q413,621 413,631 L413,651 Q413,661 419,662 L438,662 Z" fill="url(#hubL)"/>
<path d="M729,620 L747,620 Q752.8,621.5 752.8,631 L752.8,652 Q752.8,662 747,663 L729,663 Z" fill="url(#metalD)"/>
<path d="M729,620 L747,620 Q752.8,621.5 752.8,631 L752.8,652 Q752.8,662 747,663 L729,663 Z" fill="url(#hubR)"/>
<path d="M418.3,619 Q427.6,624 436.90000000000003,619 L436.90000000000003,621 Q427.6,626.5 418.3,621 Z" fill="#253650" opacity="0.85"/>
<path d="M418.3,662 Q427.6,657 436.90000000000003,662 L436.90000000000003,660 Q427.6,654.5 418.3,660 Z" fill="#253650" opacity="0.85"/>
<path d="M727,619 Q735.8,624 744.6,619 L744.6,621 Q735.8,626.5 727,621 Z" fill="#253650" opacity="0.85"/>
<path d="M727,662 Q735.8,657 744.6,662 L744.6,660 Q735.8,654.5 727,660 Z" fill="#253650" opacity="0.85"/>
<g stroke="#3f62a8" stroke-width="1.3" fill="#3f62a8">
<line x1="397.5" y1="522" x2="397.5" y2="582"/><line x1="397.5" y1="695" x2="397.5" y2="756"/>
<path d="M397.5,518 L395.3,526.5 L399.7,526.5 Z" stroke="none"/><path d="M397.5,759.5 L395.3,751 L399.7,751 Z" stroke="none"/>
<line x1="415" y1="778.5" x2="520" y2="778.5"/><line x1="640" y1="778.5" x2="750" y2="778.5"/>
<path d="M412.5,778.5 L421,776.3 L421,780.7 Z" stroke="none"/><path d="M752.5,778.5 L744,776.3 L744,780.7 Z" stroke="none"/>
<line x1="755" y1="627" x2="778" y2="645.8" stroke-width="1.1"/>
<path d="M753.7,625.9 L760.3,628.2 L757.3,632 Z" stroke="none"/><path d="M779.4,646.9 L772.8,644.7 L775.8,640.8 Z" stroke="none"/>
</g>
<g stroke="#aaa" stroke-width="0.9" stroke-dasharray="2.5 2" fill="none">
<line x1="385" y1="518" x2="420" y2="518"/><line x1="385" y1="760" x2="425" y2="760"/>
<line x1="412.5" y1="665" x2="412.5" y2="800"/><line x1="752.5" y1="662" x2="752.5" y2="800"/>
</g>
<g stroke="#a3b1c9" stroke-width="0.9" fill="none"><line x1="752.5" y1="625.9" x2="763" y2="625.9"/><line x1="752.5" y1="647.6" x2="783" y2="647.6"/></g>
<g stroke="#4a6090" stroke-width="1.4" fill="none" stroke-linecap="round"><path d="M429.0,359.6 Q432.2,361.2 434.2,364.9" /><path d="M516.1,359.6 Q519.3,361.2 521.3,364.9" /><path d="M603.2,359.6 Q606.4,361.2 608.4,364.9" /><path d="M690.3,359.6 Q693.5,361.2 695.5,364.9" /><path d="M429.0,409.6 Q432.2,411.2 434.2,414.9" /><path d="M516.1,409.6 Q519.3,411.2 521.3,414.9" /><path d="M603.2,409.6 Q606.4,411.2 608.4,414.9" /><path d="M690.3,409.6 Q693.5,411.2 695.5,414.9" /><path d="M429.0,384.6 Q432.2,386.2 434.2,389.9" /><path d="M516.1,384.6 Q519.3,386.2 521.3,389.9" /><path d="M429.0,434.6 Q432.2,436.2 434.2,439.9" /><path d="M516.1,434.6 Q519.3,436.2 521.3,439.9" /><path d="M591.0,434.6 Q594.2,436.2 596.2,439.9" /><path d="M656.5,434.6 Q659.7,436.2 661.7,439.9" /><path d="M429.0,459.1 Q432.2,460.8 434.2,464.4" /><path d="M526.0,459.1 Q529.2,460.8 531.2,464.4" /></g>
</svg>
<div class="t ti" id="title" style="left:177.95px;top:28.81px;font-size:47px;transform:scaleX(0.9488);">Product</div>
<div class="t ti" id="title2" style="left:362.00px;top:28.81px;font-size:47px;transform:scaleX(1.0009);">Information</div>
<div class="t g" id="l1" style="left:350.77px;top:99.88px;font-size:22px;transform:scaleX(1.0264);">Name: Bicycle Bearing Installation Tool Kit</div>
<div class="t g" id="l2" style="left:350.76px;top:130.88px;font-size:22px;transform:scaleX(1.0418);">Materials: Aluminum alloy, steel</div>
<div class="t g" id="l3" style="left:350.48px;top:163.38px;font-size:22px;transform:scaleX(1.0184);">Color: Light blue</div>
<div class="t g" id="l4" style="left:351.50px;top:194.88px;font-size:22px;transform:scaleX(1.0153);">Weight: About 1.45KG (including suitcase)</div>
<div class="t g" id="l5" style="left:350.75px;top:226.88px;font-size:22px;transform:scaleX(1.0521);">Specifications: 330*260*80 mm</div>
<div class="t g" id="l6" style="left:350.77px;top:258.38px;font-size:22px;transform:scaleX(1.0300);">Packaging: Compactor, handle, and</div>
<div class="t g" id="l7" style="left:469.60px;top:283.88px;font-size:22px;transform:scaleX(1.0281);">corresponding carrying case</div>
<div class="t g" id="l8" style="left:350.50px;top:311.98px;font-size:22px;transform:scaleX(0.9982);">Pressed blocks:</div>
<div class="t b" id="b1" style="left:360.25px;top:346.90px;font-size:20.5px;transform:scaleX(1.0034);">6800*2</div>
<div class="t b" id="b2" style="left:447.35px;top:346.90px;font-size:20.5px;transform:scaleX(1.0034);">6801*2</div>
<div class="t b" id="b3" style="left:534.45px;top:346.90px;font-size:20.5px;transform:scaleX(1.0034);">6802*2</div>
<div class="t b" id="b4" style="left:621.55px;top:346.90px;font-size:20.5px;transform:scaleX(1.0034);">6803*2</div>
<div class="t b" id="b5" style="left:360.25px;top:371.90px;font-size:20.5px;transform:scaleX(1.0034);">6804*2</div>
<div class="t b" id="b6" style="left:447.35px;top:371.90px;font-size:20.5px;transform:scaleX(1.0034);">6805*2</div>
<div class="t b" id="b7" style="left:534.45px;top:371.90px;font-size:20.5px;transform:scaleX(1.0034);">6806*2</div>
<div class="t b" id="b8" style="left:360.25px;top:396.90px;font-size:20.5px;transform:scaleX(1.0034);">6900*2</div>
<div class="t b" id="b9" style="left:447.35px;top:396.90px;font-size:20.5px;transform:scaleX(1.0034);">6901*2</div>
<div class="t b" id="b10" style="left:534.45px;top:396.90px;font-size:20.5px;transform:scaleX(1.0034);">6902*2</div>
<div class="t b" id="b11" style="left:621.55px;top:396.90px;font-size:20.5px;transform:scaleX(1.0034);">6903*2</div>
<div class="t b" id="b12" style="left:360.25px;top:421.90px;font-size:20.5px;transform:scaleX(1.0026);">6000*2</div>
<div class="t b" id="b13" style="left:447.35px;top:421.90px;font-size:20.5px;transform:scaleX(1.0042);">6001*2</div>
<div class="t b" id="b14" style="left:534.76px;top:421.90px;font-size:20.5px;transform:scaleX(0.9917);">608*2</div>
<div class="t b" id="b15" style="left:610.29px;top:421.90px;font-size:20.5px;transform:scaleX(0.9619);">R6*2</div>
<div class="t b" id="b16" style="left:361.52px;top:446.40px;font-size:20.5px;transform:scaleX(0.9830);">1526*2</div>
<div class="t b" id="b17" style="left:459.02px;top:446.40px;font-size:20.5px;transform:scaleX(0.9830);">1728*2</div>
<div class="t b" id="b18" style="left:548.45px;top:446.40px;font-size:20.5px;transform:scaleX(1.0536);">22/24*37</div>
<div class="t bb" id="s1" style="left:361.25px;top:472.48px;font-size:15.5px;transform:scaleX(1.0896);">(15*26mm)</div>
<div class="t bb" id="s2" style="left:450.75px;top:472.48px;font-size:15.5px;transform:scaleX(1.0928);">(17*28mm)</div>
<div class="t bb" id="s3" style="left:541.75px;top:472.48px;font-size:15.5px;transform:scaleX(1.1224);">(22/24*37mm)</div>
<div class="t k" id="k1" style="left:531.00px;top:769.76px;font-size:18px;transform:scaleX(0.9147);">22.5cm/8.86in</div>
<div class="t k" id="v1" style="left:407.84px;top:587.52px;font-size:18px;transform:rotate(90deg) scaleX(0.8840);">16.4 cm/6.46in</div>
<div class="t k" id="v2" style="left:780.24px;top:539.60px;font-size:18px;transform:rotate(90deg) scaleX(0.8564);">2.9cm/1.14in</div>
</body></html>
